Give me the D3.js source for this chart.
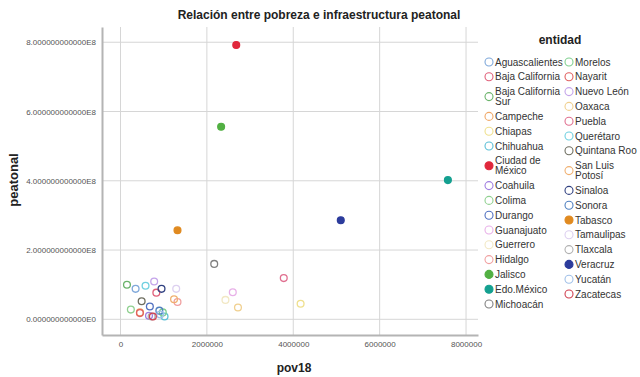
<!DOCTYPE html>
<html><head><meta charset="utf-8">
<script src="https://cdn.jsdelivr.net/npm/d3@7"></script>
<style>body{margin:0;background:#fff}svg{display:block}text{font-family:"Liberation Sans",Arial,sans-serif}</style>
</head><body><svg id="c" width="640" height="377"></svg>
<script>
const entidades = ["Aguascalientes","Baja California","Baja California Sur","Campeche","Chiapas","Chihuahua","Ciudad de México","Coahuila","Colima","Durango","Guanajuato","Guerrero","Hidalgo","Jalisco","Edo.México","Michoacán","Morelos","Nayarit","Nuevo León","Oaxaca","Puebla","Querétaro","Quintana Roo","San Luis Potosí","Sinaloa","Sonora","Tabasco","Tamaulipas","Tlaxcala","Veracruz","Yucatán","Zacatecas"];
const pov18 = [350000,830000,150000,450000,4170000,1020000,2680000,660000,240000,680000,2600000,2430000,1320000,2330000,7580000,2170000,980000,450000,780000,2720000,3780000,580000,490000,1240000,950000,900000,1320000,1290000,720000,5100000,920000,750000];
const peatonal = [88e6,77e6,100e6,20e6,45e6,8e6,792e6,10e6,28e6,37e6,78e6,56e6,50e6,556e6,402e6,160e6,20e6,18e6,109e6,34e6,119e6,97e6,52e6,58e6,88e6,25e6,257e6,88e6,8e6,286e6,14e6,8e6];
const colores = ["#7fa8da","#e0607a","#6bb36b","#f0a868","#efe08e","#5bbfd6","#e0283c","#a07ee0","#90d090","#5070c0","#e8b0e8","#f2e8c4","#f0a0a0","#52b043","#14a090","#808080","#80d090","#e06060","#c4a4ea","#f0d090","#e07090","#70d0e0","#6e6e60","#f0b070","#304080","#5080c0","#e08a20","#ddd0f0","#b0b0b0","#2c3c9c","#a0c0e8","#d04050"];
const rellenos = ["Ciudad de México","Jalisco","Edo.México","Tabasco","Veracruz"];
const xTicks = [0,2000000,4000000,6000000,8000000];
const yTicks = [0,2e8,4e8,6e8,8e8];
const titulo = "Relación entre pobreza e infraestructura peatonal";

const svg = d3.select("#c");
const x = d3.scaleLinear().domain([-428000, 8277000]).range([102, 478]);
const y = d3.scaleLinear().domain([-0.453e8, 8.44e8]).range([335, 27]);
const color = d3.scaleOrdinal().domain(entidades).range(colores);

function fmtE(d){
  if(d===0) return "0." + "0".repeat(12) + "E0";
  const e = Math.floor(Math.log10(Math.abs(d)));
  return (d/Math.pow(10,e)).toFixed(12) + "E" + e;
}

// grid
svg.append("g").selectAll("line").data(xTicks).join("line")
  .attr("x1", d=>x(d)).attr("x2", d=>x(d)).attr("y1", 27).attr("y2", 335)
  .attr("stroke", "#d6d6d6").attr("stroke-width", 1);
svg.append("g").selectAll("line").data(yTicks).join("line")
  .attr("x1", 102).attr("x2", 478).attr("y1", d=>y(d)).attr("y2", d=>y(d))
  .attr("stroke", "#d6d6d6").attr("stroke-width", 1);

// axes
const xAxis = svg.append("g").attr("transform", "translate(0,335)")
  .call(d3.axisBottom(x).tickValues(xTicks).tickFormat(d3.format("d")).tickSize(0).tickPadding(6));
const yAxis = svg.append("g").attr("transform", "translate(102,0)")
  .call(d3.axisLeft(y).tickValues(yTicks).tickFormat(fmtE).tickSize(0).tickPadding(6));
[xAxis, yAxis].forEach(a=>{
  a.select(".domain").attr("stroke", "#b4b4b4").attr("stroke-width", 2);
  a.selectAll("text").attr("font-size", "8px").attr("fill", "#555").attr("font-family", "Liberation Sans, Arial");
});

// points
const pts = entidades.map((n,i)=>({n, px: pov18[i], py: peatonal[i]}));
svg.append("g").selectAll("circle").data(pts).join("circle")
  .attr("cx", d=>x(d.px)).attr("cy", d=>y(d.py)).attr("r", 3.4)
  .attr("fill", d=>rellenos.includes(d.n) ? color(d.n) : "none")
  .attr("stroke", d=>color(d.n)).attr("stroke-width", 1.3);

// titles
svg.append("text").attr("x", 319).attr("y", 19).attr("text-anchor", "middle")
  .attr("font-size", "12px").attr("font-weight", "bold").attr("fill", "#222").text(titulo);
svg.append("text").attr("x", 294).attr("y", 372).attr("text-anchor", "middle")
  .attr("font-size", "12px").attr("font-weight", "bold").attr("fill", "#222").text("pov18");
svg.append("text").attr("transform", "translate(18,180) rotate(-90)").attr("text-anchor", "middle")
  .attr("font-size", "13px").attr("font-weight", "bold").attr("fill", "#222").text("peatonal");

// legend
svg.append("text").attr("x", 560).attr("y", 44).attr("text-anchor", "middle")
  .attr("font-size", "12px").attr("font-weight", "bold").attr("fill", "#222").text("entidad");

const wraps = {"Baja California Sur":["Baja California","Sur"],"Ciudad de México":["Ciudad de","México"],"San Luis Potosí":["San Luis","Potosí"]};
const cols = [entidades.slice(0,16), entidades.slice(16)];
const colX = [489, 569];
cols.forEach((list, ci)=>{
  let yy = 62;
  list.forEach(n=>{
    const lines = wraps[n] || [n];
    const g = svg.append("g");
    const cy = yy + (lines.length-1)*5;
    g.append("circle").attr("cx", colX[ci]).attr("cy", cy).attr("r", 4)
      .attr("fill", rellenos.includes(n) ? color(n) : "none")
      .attr("stroke", color(n)).attr("stroke-width", 1.1);
    lines.forEach((l,li)=>{
      g.append("text").attr("x", colX[ci]+6).attr("y", yy + li*10 + 3.5)
        .attr("font-size", "10px").attr("fill", "#333").text(l);
    });
    yy += 14.8 + (lines.length-1)*10;
  });
});
</script></body></html>
